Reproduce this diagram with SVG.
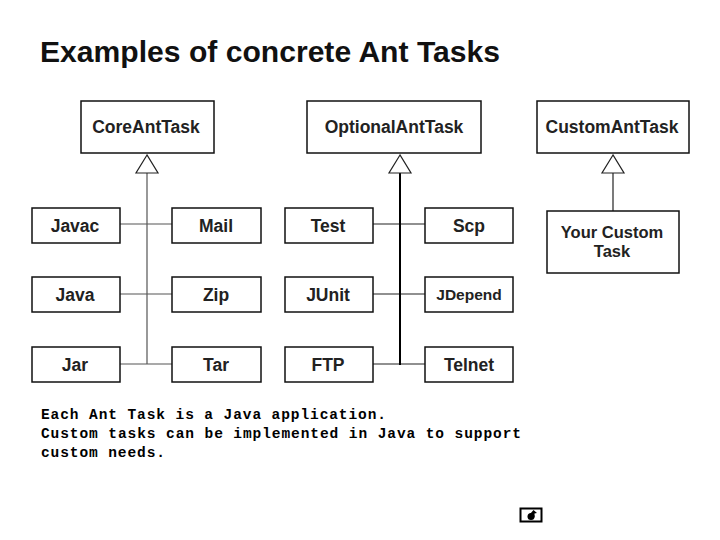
<svg xmlns="http://www.w3.org/2000/svg" width="720" height="540" viewBox="0 0 720 540">
<style>
.n{fill:#fff;stroke:#111;stroke-width:1.5}
.t{font-family:"Liberation Sans",Arial,sans-serif;font-weight:700;fill:#222;text-anchor:middle}
.s{font-size:17.5px}
.c{fill:none;stroke:#555;stroke-width:1.2}
.d{fill:none;stroke:#222;stroke-width:1.2}
.h{fill:#fff;stroke:#222;stroke-width:1.2}
.b{font-family:"Liberation Mono",monospace;font-weight:700;font-size:14.5px;fill:#000}
</style>
<rect width="720" height="540" fill="#fff"/>
<text x="40" y="62" font-family="Liberation Sans,Arial,sans-serif" font-size="30" font-weight="700" fill="#111" textLength="460" lengthAdjust="spacingAndGlyphs">Examples of concrete Ant Tasks</text>
<g id="connectors">
<path class="c" d="M147 173V364M120 224H172M120 294H172M120 364H172"/>
<path class="d" d="M373 224H425M373 294H425M373 364H425"/>
<path class="d" style="stroke-width:2;stroke:#000" d="M400 173V365"/>
<path class="d" d="M613 173V211"/>
<path class="h" d="M147 155L136 173H158Z"/>
<path class="h" d="M400 155L389 173H411Z"/>
<path class="h" d="M613 155L602 173H624Z"/>
</g>
<g id="core"><rect class="n" x="81" y="101" width="133" height="52"/><text class="t" x="146" y="133" font-size="17.5">CoreAntTask</text></g>
<g id="optional"><rect class="n" x="307" y="101" width="174" height="52"/><text class="t" x="394" y="133" font-size="17.5">OptionalAntTask</text></g>
<g id="custom"><rect class="n" x="537" y="101" width="152" height="52"/><text class="t" x="612" y="133" font-size="17.5">CustomAntTask</text></g>
<g id="javac"><rect class="n" x="32" y="208" width="88" height="35"/><text class="t s" x="75" y="232">Javac</text></g>
<g id="mail"><rect class="n" x="172" y="208" width="89" height="35"/><text class="t s" x="216" y="232">Mail</text></g>
<g id="test"><rect class="n" x="285" y="208" width="88" height="35"/><text class="t s" x="328" y="232">Test</text></g>
<g id="scp"><rect class="n" x="425" y="208" width="88" height="35"/><text class="t s" x="469" y="232">Scp</text></g>
<g id="java"><rect class="n" x="32" y="277" width="88" height="35"/><text class="t s" x="75" y="301">Java</text></g>
<g id="zip"><rect class="n" x="172" y="277" width="89" height="35"/><text class="t s" x="216" y="301">Zip</text></g>
<g id="junit"><rect class="n" x="285" y="277" width="88" height="35"/><text class="t s" x="328" y="301">JUnit</text></g>
<g id="jdepend"><rect class="n" x="425" y="277" width="88" height="35"/><text class="t" x="469" y="300" font-size="15.5">JDepend</text></g>
<g id="jar"><rect class="n" x="32" y="347" width="88" height="35"/><text class="t s" x="75" y="371">Jar</text></g>
<g id="tar"><rect class="n" x="172" y="347" width="89" height="35"/><text class="t s" x="216" y="371">Tar</text></g>
<g id="ftp"><rect class="n" x="285" y="347" width="88" height="35"/><text class="t s" x="328" y="371">FTP</text></g>
<g id="telnet"><rect class="n" x="425" y="347" width="88" height="35"/><text class="t s" x="469" y="371">Telnet</text></g>
<g id="your"><rect class="n" x="547" y="211" width="132" height="62"/><text class="t" x="612" y="238" font-size="16.5">Your Custom</text><text class="t" x="612" y="257" font-size="16.5">Task</text></g>
<text class="b" x="41" y="419" textLength="345">Each Ant Task is a Java application.</text>
<text class="b" x="41" y="438" textLength="480">Custom tasks can be implemented in Java to support</text>
<text class="b" x="41" y="457" textLength="124">custom needs.</text>
<g id="icon"><rect x="520.5" y="508.5" width="21" height="13" fill="#fff" stroke="#000" stroke-width="2"/><circle cx="531" cy="516.5" r="3.5" fill="#000"/><path d="M530 514l3.5-4 3.5 3-2.500 .5v4h-3z" fill="#000"/></g>
</svg>
